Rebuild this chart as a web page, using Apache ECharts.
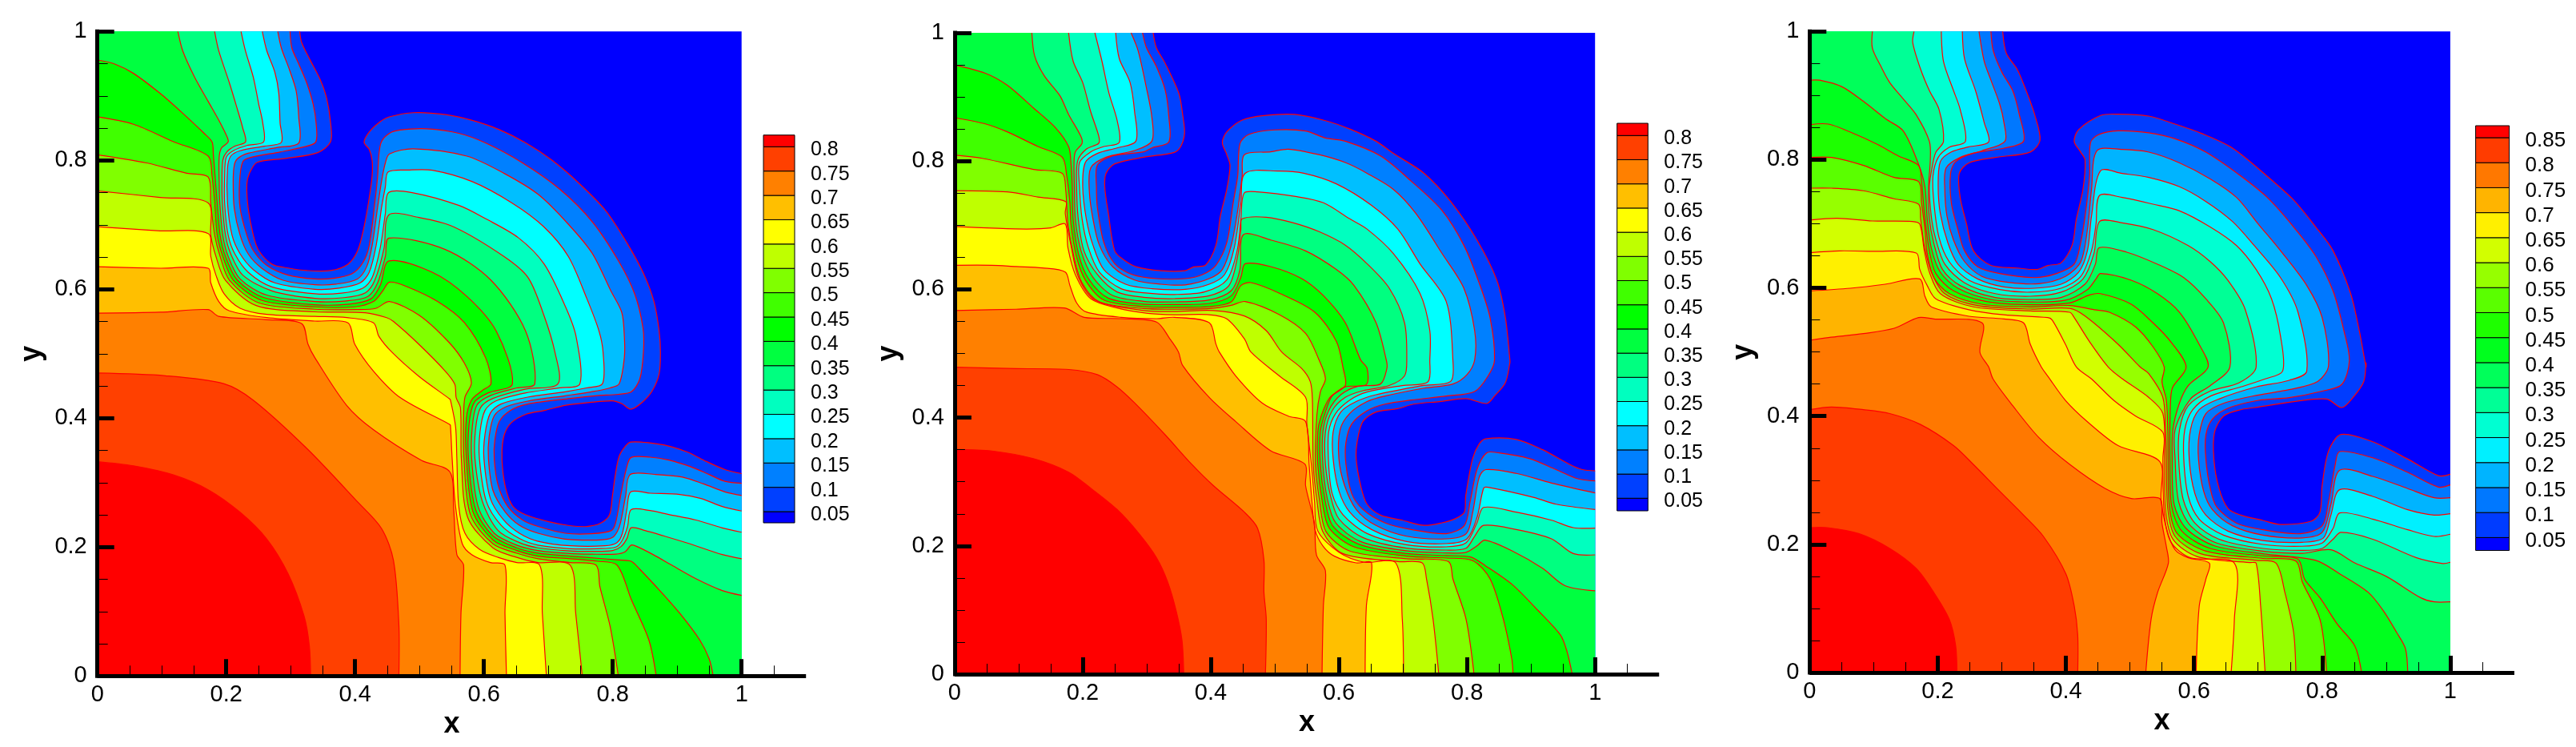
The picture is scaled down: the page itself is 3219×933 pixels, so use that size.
<!DOCTYPE html>
<html>
<head>
<meta charset="utf-8">
<title>contours</title>
<style>
  html, body { margin: 0; padding: 0; background: #fff; }
  #chart { width: 3219px; height: 933px; }
</style>
<script src="https://cdn.jsdelivr.net/npm/echarts@6/dist/echarts.min.js"></script>
</head>
<body>
<div id="chart"></div>
<script>
const levels = [.05,.1,.15,.2,.25,.3,.35,.4,.45,.5,.55,.6,.65,.7,.75,.8]
const levels3 = [.05,.1,.15,.2,.25,.3,.35,.4,.45,.5,.55,.6,.65,.7,.75,.8,.85]
const bands = ['#0000ff','#0040ff','#0080ff','#00bfff','#00ffff','#00ffbf','#00ff80','#00ff40','#00ff00','#40ff00','#80ff00','#bfff00','#ffff00','#ffbf00','#ff8000','#ff4000','#ff0000']
const bands3 = ['#0000ff','#003cff','#0078ff','#00b4ff','#00f0ff','#00ffd2','#00ff96','#00ff5a','#00ff1e','#1eff00','#5aff00','#96ff00','#d2ff00','#fff000','#ffb400','#ff7800','#ff3c00','#ff0000']
const domain = [0,1,1,1,1,0,0,0]
const majorTicks = [0,.2,.4,.6,.8,1]
const minorX = [.05,.1,.15,.25,.3,.35,.45,.5,.55,.65,.7,.75,.85,.9,.95,1.05]
const minorY = [.05,.1,.15,.25,.3,.35,.45,.5,.55,.65,.7,.75,.85,.9,.95]

// contour lines, flat x,y lists. each one bounds the region v >= level
// left panel
const p1c05 = [.314,1,.317,.983,.329,.958,.346,.925,.356,.896,.362,.858,.362,.829,.342,.812,.292,.803,.248,.797,.236,.78,.232,.763,.234,.726,.242,.684,.2505,.66,.271,.639,.296,.633,.325,.629,.362,.629,.389,.639,.404,.66,.414,.697,.422,.742,.4265,.776,.4265,.8,.422,.817,.414,.828,.422,.844,.439,.86,.453,.8675,.491,.874,.5405,.871,.582,.862,.623,.848,.665,.827,.706,.8,.747,.765,.789,.722,.822,.672,.847,.626,.864,.581,.872,.535,.874,.502,.872,.469,.861,.442,.845,.424,.828,.414,.8137,.4228,.799,.427,.764,.4244,.727,.42,.694,.412,.665,.406,.642,.3925,.6315,.374,.628,.349,.6295,.316,.636,.283,.646,.262,.665,.25,.702,.239,.735,.233,.76,.232,.781,.237,.795,.25,.7995,.279,.804,.312,.81,.341,.82,.357,.828,.363,.855,.362,.888,.3565,.917,.347,.946,.3325,.975,.32,1,.314]
const p1c10 = [.299,1,.302,.974,.3126,.9495,.325,.92,.335,.887,.3395,.858,.339,.8285,.321,.821,.2836,.813,.238,.8046,.2257,.798,.2207,.767,.2215,.726,.232,.684,.242,.66,.263,.637,.296,.622,.3375,.616,.3665,.617,.395,.624,.412,.641,.422,.668,.4306,.734,.435,.7756,.437,.809,.441,.829,.4534,.842,.47,.847,.511,.849,.561,.842,.6025,.827,.66,.796,.718,.755,.768,.705,.8095,.643,.834,.593,.847,.5395,.8476,.502,.842,.461,.829,.441,.809,.437,.7756,.435,.734,.4306,.668,.422,.641,.412,.624,.395,.617,.3665,.616,.3375,.622,.296,.637,.263,.66,.242,.684,.232,.726,.2215,.767,.2207,.798,.2257,.8046,.238,.813,.2836,.821,.321,.8285,.339,.858,.3395,.887,.335,.92,.325,.9495,.3126,.974,.302,1,.299]
const p1c15 = [.28,1,.2857,.974,.298,.941,.3085,.908,.3126,.8667,.3126,.827,.2795,.82,.234,.811,.2174,.8025,.2124,.792,.2108,.767,.2124,.726,.2215,.684,.234,.655,.2547,.633,.288,.614,.3375,.607,.3706,.608,.4037,.616,.418,.635,.4265,.668,.4348,.726,.441,.767,.447,.796,.4534,.81,.4907,.818,.5735,.8066,.6315,.7797,.685,.7466,.731,.701,.7683,.6555,.797,.5975,.814,.564,.818,.527,.818,.494,.81,.4534,.796,.447,.767,.441,.726,.4348,.668,.4265,.635,.418,.616,.4037,.608,.3706,.607,.3375,.614,.288,.633,.2547,.655,.234,.684,.2215,.726,.2124,.767,.2108,.792,.2124,.8025,.2174,.811,.234,.82,.2795,.827,.3126,.8667,.3126,.908,.3085,.941,.298,.974,.2857,1,.28]
const p1c20 = [.256,1,.263,.97,.2754,.937,.2816,.904,.2836,.858,.2857,.828,.2588,.822,.2215,.815,.207,.8066,.202,.788,.202,.734,.209,.684,.2215,.655,.242,.6306,.2754,.61,.3375,.6,.375,.6017,.408,.61,.422,.6265,.4327,.668,.441,.726,.447,.759,.4513,.782,.4824,.785,.52,.7847,.582,.767,.6435,.734,.693,.697,.731,.651,.76,.585,.7787,.535,.785,.502,.784,.4534,.759,.447,.726,.441,.668,.4327,.6265,.422,.61,.408,.6017,.375,.6,.3375,.61,.2754,.6306,.242,.655,.2215,.684,.209,.734,.202,.788,.202,.8066,.207,.815,.2215,.822,.2588,.828,.2857,.858,.2836,.904,.2816,.937,.2754,.97,.263,1,.256]
const p1c25 = [.223,1,.2298,.97,.242,.929,.2505,.887,.2567,.858,.258,.8286,.232,.823,.211,.815,.2,.8046,.1975,.7756,.1975,.734,.203,.684,.2133,.655,.234,.6265,.271,.6037,.3375,.593,.379,.594,.412,.6017,.4265,.618,.439,.664,.447,.7176,.452,.75,.4886,.75,.5615,.73,.603,.7093,.6534,.68,.6936,.639,.7267,.5727,.743,.527,.749,.4534,.7176,.447,.664,.439,.618,.4265,.6017,.412,.594,.379,.593,.3375,.6037,.271,.6265,.234,.655,.2133,.684,.203,.734,.1975,.7756,.1975,.8046,.2,.815,.211,.823,.232,.8286,.258,.858,.2567,.887,.2505,.929,.242,.97,.2298,1,.223]
const p1c30 = [.182,1,.1884,.97,.205,.92,.2174,.879,.2257,.85,.23,.8286,.2133,.822,.2008,.813,.1946,.8,.1934,.767,.194,.734,.1988,.684,.207,.655,.2257,.622,.271,.5975,.3375,.586,.383,.587,.416,.5946,.4306,.614,.445,.664,.4526,.7155,.499,.7114,.5528,.697,.631,.651,.6687,.618,.693,.56,.7103,.502,.715,.4534,.664,.445,.614,.4306,.5946,.416,.587,.383,.586,.3375,.5975,.271,.622,.2257,.655,.207,.684,.1988,.734,.194,.767,.1934,.8,.1946,.813,.2008,.822,.2133,.8286,.23,.85,.2257,.879,.2174,.92,.205,.97,.1884,1,.182]
const p1c35 = [.125,1,.1325,.97,.151,.929,.172,.8915,.1884,.8625,.2008,.8377,.203,.8286,.1925,.819,.189,.8046,.189,.767,.19,.734,.1946,.684,.203,.651,.2215,.616,.263,.591,.3375,.581,.387,.582,.42,.589,.435,.61,.447,.651,.4526,.6795,.54,.6617,.611,.614,.6646,.5354,.679,.4534,.651,.447,.61,.435,.589,.42,.582,.387,.581,.3375,.591,.263,.616,.2215,.651,.203,.684,.1946,.734,.19,.767,.189,.8046,.189,.819,.1925,.8286,.203,.8377,.2008,.8625,.1884,.8915,.172,.929,.151,.97,.1325,1,.125]
const p1c40 = [0,.956,.027,.9495,.056,.935,.0973,.904,.1304,.875,.1656,.842,.178,.8286,.18,.8087,.184,.759,.186,.734,.1905,.684,.1988,.651,.2174,.614,.2588,.587,.3375,.576,.391,.577,.4244,.585,.439,.606,.4526,.644,.5197,.6265,.5735,.589,.619,.5354,.6443,.4534,.606,.439,.585,.4244,.577,.391,.576,.3375,.587,.2588,.614,.2174,.651,.1988,.684,.1905,.734,.186,.759,.184,.8087,.18,.8286,.178,.842,.1656,.875,.1304,.904,.0973,.935,.056,.9495,.027,.956,0]
const p1c45 = [0,.8675,.056,.856,.118,.829,.172,.8066,.178,.7755,.182,.734,.186,.684,.1946,.651,.211,.614,.2547,.583,.3375,.5727,.3996,.5727,.4286,.581,.443,.5975,.4534,.611,.478,.605,.528,.581,.5698,.548,.6025,.494,.611,.4534,.5975,.443,.581,.4286,.5727,.3996,.5727,.3375,.583,.2547,.614,.211,.651,.1946,.684,.186,.734,.182,.7755,.178,.8066,.172,.829,.118,.856,.056,.8675,0]
const p1c50 = [0,.8087,.0766,.796,.1387,.78,.172,.774,.176,.734,.182,.684,.1905,.651,.205,.614,.2505,.579,.3375,.569,.4037,.5685,.4327,.5706,.4534,.581,.499,.56,.5445,.519,.5693,.486,.5806,.4547,.5706,.4327,.5685,.4037,.569,.3375,.579,.2505,.614,.205,.651,.1905,.684,.182,.734,.176,.774,.172,.78,.1387,.796,.0766,.8087,0]
const p1c55 = [0,.7527,.0973,.7425,.172,.734,.176,.684,.184,.651,.1988,.614,.2464,.5747,.3375,.565,.416,.5636,.449,.556,.4596,.55,.499,.5147,.54,.473,.5548,.4526,.5569,.432,.5636,.416,.565,.3375,.5747,.2464,.614,.1988,.651,.184,.684,.176,.734,.172,.7425,.0973,.7527,0]
const p1c60 = [0,.697,.0973,.6907,.172,.6865,.176,.651,.184,.622,.1967,.593,.2215,.5706,.263,.561,.3375,.558,.387,.556,.4286,.548,.437,.527,.4576,.502,.499,.465,.5466,.43,.548,.4286,.556,.387,.558,.3375,.561,.263,.5706,.2215,.593,.1967,.622,.184,.651,.176,.6865,.172,.6907,.0973,.697,0]
const p1c65 = [0,.635,.0973,.6327,.172,.6327,.176,.61,.1884,.581,.205,.5665,.263,.556,.3375,.5507,.389,.548,.3996,.5147,.4286,.473,.47,.432,.5466,.3905,.548,.389,.5507,.3375,.556,.263,.5665,.205,.581,.1884,.61,.176,.6327,.172,.6327,.0973,.635,0]
const p1c70 = [0,.563,.0973,.5644,.1718,.5685,.1884,.558,.26,.553,.3168,.547,.327,.5147,.3375,.494,.3872,.4195,.4286,.382,.503,.3346,.547,.3168,.553,.26,.558,.1884,.5685,.1718,.5644,.0973,.563,0]
const p1c75 = [0,.47,.1056,.4658,.1967,.4534,.2422,.4278,.325,.3532,.4037,.2704,.441,.229,.4596,.1793,.468,.08,.468,0]
const p1c80 = [0,.3325,.056,.326,.118,.312,.172,.289,.2215,.254,.263,.2124,.296,.1586,.321,.0923,.329,.0468,.331,0]

// middle panel
const p2c05 = [.31,1,.315,.977,.329,.952,.35,.906,.356,.873,.359,.8435,.353,.8227,.343,.8136,.295,.806,.25,.7957,.2365,.781,.2344,.76,.24,.7186,.25,.66,.264,.646,.284,.635,.322,.629,.36,.629,.3735,.635,.392,.638,.408,.669,.415,.7145,.425,.756,.43,.793,.425,.81,.418,.829,.425,.8456,.449,.864,.483,.871,.531,.8727,.579,.863,.617,.85,.658,.831,.685,.812,.733,.781,.7745,.737,.8156,.677,.8465,.6146,.86,.556,.867,.49,.867,.4856,.86,.4545,.843,.4336,.831,.422,.7985,.4295,.757,.425,.7165,.421,.692,.414,.658,.4087,.6375,.394,.629,.365,.627,.336,.634,.294,.644,.265,.665,.248,.699,.24,.733,.232,.761,.236,.781,.242,.796,.2526,.798,.2776,.8088,.336,.819,.3587,.829,.367,.877,.366,.918,.35,.9595,.3275,.98,.319,1,.317]
const p2c10 = [.2934,1,.2995,.977,.315,.9475,.329,.91,.3345,.8685,.3345,.83,.308,.8206,.295,.8144,.2467,.808,.2228,.7936,.2214,.76,.223,.727,.233,.673,.25,.64,.2776,.623,.315,.6167,.36,.6167,.387,.623,.408,.6375,.425,.673,.435,.735,.442,.777,.4455,.827,.459,.8415,.5,.8486,.548,.847,.579,.836,.61,.831,.665,.808,.713,.7686,.761,.723,.795,.669,.819,.61,.836,.556,.843,.49,.833,.465,.812,.4407,.7676,.4336,.713,.4274,.6717,.421,.644,.4107,.62,.39,.611,.361,.611,.3275,.62,.2817,.6375,.2568,.6717,.236,.713,.2255,.7676,.219,.796,.2318,.805,.269,.8156,.319,.8307,.345,.85,.345,.8978,.336,.939,.319,.973,.3046,1,.3013]
const p2c15 = [.2755,1,.2865,.972,.2995,.914,.308,.8685,.308,.831,.281,.8165,.2365,.806,.2125,.7894,.2104,.752,.216,.71,.226,.669,.2467,.6355,.281,.6146,.322,.608,.36,.607,.3975,.6167,.418,.631,.432,.669,.442,.723,.449,.777,.4524,.81,.4935,.8144,.521,.8186,.569,.81,.61,.7977,.644,.781,.685,.756,.72,.7186,.761,.656,.795,.602,.812,.5356,.812,.49,.8,.467,.778,.4524,.733,.446,.672,.4336,.644,.425,.617,.4066,.602,.3816,.6,.336,.609,.294,.627,.2568,.658,.2318,.7056,.215,.7676,.211,.799,.2193,.809,.2526,.819,.3067,.8294,.319,.877,.313,.932,.298,1,.2826]
const p2c20 = [.2515,1,.257,.96,.274,.9225,.281,.877,.283,.831,.2536,.8206,.2228,.812,.204,.7977,.2,.76,.2056,.71,.216,.669,.233,.631,.267,.608,.3085,.601,.36,.6,.3975,.608,.4215,.623,.4366,.6646,.447,.735,.4537,.781,.507,.7844,.545,.781,.596,.7645,.651,.731,.692,.694,.7265,.64,.7676,.581,.778,.49,.7745,.4565,.73,.45,.658,.4357,.627,.425,.603,.4087,.591,.3775,.591,.336,.6,.286,.617,.2526,.651,.2255,.7056,.2068,.7676,.2035,.8,.211,.8156,.244,.826,.29,.833,.2913,.9047,.2755,.939,.265,1,.2568]
const p2c25 = [.219,1,.23,.956,.241,.906,.2536,.864,.257,.829,.233,.8227,.2125,.8144,.195,.7977,.195,.76,.199,.71,.209,.6646,.226,.627,.26,.601,.3016,.594,.343,.592,.39,.596,.425,.6146,.441,.66,.447,.71,.452,.75,.473,.752,.5346,.7445,.576,.735,.617,.71,.644,.694,.685,.656,.7265,.594,.742,.5356,.742,.49,.739,.4557,.699,.45,.644,.44,.617,.4274,.595,.4066,.584,.3775,.584,.3275,.5895,.2817,.6066,.2484,.644,.2193,.7056,.2018,.7676,.1985,.7985,.2047,.8156,.236,.826,.26,.877,.2526,.932,.24,.966,.2285,1,.2276]
const p2c30 = [.178,1,.185,.956,.2,.9225,.2125,.877,.225,.839,.225,.8277,.2056,.8186,.192,.8,.1905,.76,.193,.71,.202,.66,.223,.623,.2536,.596,.295,.5876,.343,.5855,.3975,.59,.4284,.606,.442,.652,.447,.694,.449,.71,.4866,.7125,.528,.704,.569,.69,.61,.669,.644,.64,.6785,.602,.7025,.548,.706,.49,.7025,.465,.6785,.45,.6375,.442,.61,.4315,.5895,.4107,.579,.3775,.579,.3275,.587,.2776,.6,.2422,.6375,.213,.7056,.1964,.7676,.1935,.7985,.1964,.812,.215,.826,.232,.877,.2255,.932,.211,.966,.188,1,.186]
const p2c35 = [.1206,1,.125,.964,.14,.933,.1645,.9018,.178,.8727,.197,.839,.199,.8277,.1885,.8144,.1864,.7977,.187,.76,.1885,.71,.1974,.66,.216,.6188,.2467,.5905,.295,.5814,.343,.5805,.3975,.5834,.432,.598,.4455,.631,.451,.6854,.4935,.677,.548,.66,.596,.631,.6237,.606,.658,.548,.674,.49,.675,.477,.665,.4524,.63,.449,.603,.4357,.584,.4107,.575,.3775,.575,.3275,.582,.2734,.595,.236,.634,.2068,.7056,.1923,.7676,.189,.7985,.19,.8156,.2,.828,.209,.8704,.1923,.918,.165,.953,.138,1,.13]
const p2c40 = [0,.95,.048,.937,.082,.9185,.123,.883,.1576,.852,.178,.8227,.1816,.7977,.1837,.76,.185,.71,.1933,.656,.209,.6167,.24,.5863,.295,.577,.343,.5764,.3975,.578,.432,.59,.447,.619,.4537,.64,.4935,.6355,.5415,.617,.576,.59,.61,.548,.634,.49,.644,.477,.6428,.4515,.61,.448,.5895,.4336,.579,.4087,.571,.3775,.571,.3275,.578,.2734,.59,.2318,.6306,.2027,.7056,.188,.7676,.185,.8054,.1827,.829,.169,.8704,.14,.9116,.0986,.946,.061,.956,.036,.9644,0]
const p2c45 = [0,.8677,.048,.858,.082,.8456,.13,.8227,.168,.806,.175,.777,.18,.735,.1816,.702,.19,.652,.204,.6147,.233,.5834,.295,.573,.343,.572,.3975,.573,.432,.5805,.447,.606,.4627,.6105,.507,.594,.562,.5647,.596,.519,.6066,.477,.61,.45,.586,.4315,.5723,.4024,.567,.3775,.567,.3275,.574,.269,.585,.2276,.6237,.1985,.7056,.184,.7676,.181,.8088,.177,.836,.1486,.8567,.086,.87,.0237,.872,0]
const p2c50 = [0,.8094,.0446,.804,.123,.787,.168,.781,.1734,.756,.177,.702,.186,.652,.199,.61,.226,.5805,.295,.57,.343,.569,.3975,.57,.432,.575,.4537,.581,.507,.5606,.548,.5314,.569,.49,.579,.4607,.571,.44,.5655,.4024,.5634,.3275,.57,.269,.58,.222,.617,.192,.7056,.18,.771,.1756,.778,.1486,.7985,.086,.811,0]
const p2c55 = [0,.754,.082,.752,.13,.744,.1734,.737,.1727,.7187,.1816,.669,.1933,.619,.2193,.5834,.295,.567,.343,.5655,.404,.567,.4524,.5585,.4866,.5356,.5107,.5023,.5415,.477,.5552,.4565,.5586,.4295,.56,.3275,.566,.269,.575,.222,.606,.188,.692,.1756,.73,.1735,.7368,.1486,.747,.086,.756,0]
const p2c60 = [0,.698,.0583,.6955,.113,.694,.15,.6958,.1727,.702,.177,.6646,.1885,.623,.2125,.5855,.2536,.571,.3016,.5626,.343,.5605,.3975,.5605,.425,.554,.4524,.523,.4627,.5023,.507,.465,.548,.4316,.55,.39,.557,.3275,.562,.269,.567,.2235,.6,.19,.64,.1745,.6888,.1735,.699,.086,.701,0]
const p2c65 = [0,.6375,.0583,.6375,.096,.6355,.137,.6334,.1727,.627,.18,.606,.1905,.579,.2056,.5647,.26,.5564,.3153,.5543,.343,.5564,.3975,.548,.408,.5148,.4133,.5023,.439,.465,.48,.423,.521,.4024,.548,.394,.5535,.3275,.558,.269,.563,.225,.575,.2,.593,.184,.627,.1735,.651,.1735,.643,.107,.641,0]
const p2c70 = [0,.567,.096,.569,.1713,.571,.2022,.5564,.26,.5543,.3153,.549,.336,.523,.3496,.5023,.356,.4815,.3976,.4315,.4387,.394,.4935,.3483,.547,.3275,.548,.294,.5617,.236,.565,.186,.579,.161,.5758,.107,.5737,0]
const p2c75 = [0,.4786,.096,.4765,.178,.475,.2228,.467,.2536,.448,.281,.423,.329,.373,.37,.3275,.404,.294,.4524,.2526,.473,.2276,.483,.1777,.483,.1278,.4866,.086,.4853,0]
const p2c80 = [0,.3504,.0583,.348,.123,.336,.178,.315,.2125,.29,.2536,.2568,.288,.219,.315,.182,.3325,.1444,.346,.0986,.355,.053,.3578,0]

// right panel
const p3c05 = [.3014,1,.307,.966,.324,.941,.338,.9076,.3514,.87,.3596,.8305,.3445,.812,.29,.8035,.2486,.795,.2336,.7785,.235,.741,.245,.6994,.2555,.658,.283,.635,.324,.631,.355,.6287,.372,.635,.3925,.639,.4096,.666,.4164,.7077,.4267,.7535,.43,.7993,.423,.812,.413,.8285,.42,.847,.454,.869,.4815,.871,.5295,.868,.5705,.8555,.6116,.841,.66,.818,.714,.7744,.7555,.737,.79,.695,.817,.658,.8445,.591,.858,.533,.8685,.4767,.8685,.483,.865,.454,.848,.4288,.8308,.4134,.8068,.4267,.7555,.4226,.7007,.4142,.673,.41,.646,.4,.632,.3747,.631,.333,.639,.2873,.653,.256,.673,.2456,.7075,.2373,.735,.231,.783,.236,.7966,.25,.8,.2914,.81,.3455,.8295,.3713,.8788,.36,.9336,.333,.9815,.307,1,.3093]
const p3c10 = [.283,1,.2866,.97,.3,.9367,.317,.9076,.3274,.87,.334,.829,.3034,.818,.2555,.81,.228,.797,.22,.7785,.2212,.7327,.2315,.691,.2418,.658,.2623,.633,.2966,.6224,.351,.616,.3856,.6224,.413,.637,.423,.67,.43,.712,.437,.7744,.4384,.8264,.4507,.839,.4815,.845,.5295,.842,.5705,.8326,.6185,.8118,.6733,.7744,.7144,.741,.7555,.695,.79,.6495,.817,.595,.834,.533,.8425,.487,.8308,.4496,.8,.439,.7486,.4288,.7007,.4246,.6527,.4122,.6288,.3955,.6185,.3705,.6185,.333,.6253,.2873,.6356,.258,.6664,.233,.7075,.2227,.7658,.2165,.8,.229,.81,.2664,.8205,.3247,.8274,.3447,.8788,.335,.9336,.3122,.9815,.2893,1,.2927]
const p3c15 = [.2644,1,.2726,.953,.283,.924,.2966,.887,.3034,.8576,.3048,.8285,.269,.814,.235,.8035,.213,.787,.211,.7535,.2144,.712,.2247,.6744,.2418,.641,.269,.618,.31,.6087,.358,.6066,.3993,.618,.4233,.641,.4336,.691,.44,.7535,.4486,.814,.488,.816,.5295,.8118,.5774,.795,.6253,.77,.6664,.741,.7,.7,.735,.658,.776,.6037,.8,.5537,.81,.479,.793,.454,.7486,.4413,.7007,.433,.646,.42,.6185,.404,.608,.3705,.607,.333,.615,.283,.6288,.254,.66,.229,.7075,.2144,.769,.21,.8,.2186,.8137,.2623,.8274,.3156,.8788,.306,.9336,.287,.9747,.2727,1,.2727]
const p3c20 = [.2384,1,.2418,.9575,.259,.9076,.2726,.8576,.2795,.8276,.2486,.82,.2212,.812,.204,.797,.2007,.7577,.204,.716,.2158,.6703,.2315,.637,.2623,.614,.3034,.6016,.351,.5995,.3925,.6057,.42,.6245,.4336,.658,.44,.712,.454,.7827,.488,.7785,.5295,.7723,.5774,.7577,.6185,.7348,.66,.7036,.694,.666,.735,.616,.7623,.562,.776,.4704,.7486,.4559,.697,.4455,.639,.4267,.608,.41,.5945,.379,.5925,.333,.6014,.279,.6185,.2456,.653,.2206,.7075,.206,.769,.2032,.802,.21,.8137,.2456,.8274,.2852,.8788,.2748,.9336,.254,.9747,.2456,1,.2477]
const p3c25 = [.2055,1,.209,.953,.2247,.9076,.235,.8784,.2432,.8285,.2178,.8193,.2007,.8035,.1925,.7744,.194,.7327,.202,.6786,.2178,.641,.2486,.612,.2966,.5974,.3445,.5933,.3925,.5995,.4233,.618,.44,.658,.447,.6994,.4527,.7443,.488,.741,.536,.7306,.5774,.7202,.6253,.695,.6664,.666,.697,.6286,.721,.583,.735,.5246,.7384,.4704,.711,.458,.673,.4455,.6253,.431,.598,.41,.5856,.379,.584,.333,.591,.2748,.608,.2394,.646,.2144,.7075,.1998,.769,.197,.8,.202,.817,.2248,.8274,.249,.8788,.2394,.9336,.2227,.9747,.2123,1,.2157]
const p3c30 = [.163,1,.161,.9825,.1733,.941,.187,.9076,.202,.8784,.209,.8285,.1973,.812,.1925,.795,.187,.7577,.1904,.7077,.1973,.6744,.211,.637,.2418,.608,.2897,.591,.3445,.587,.3925,.5933,.4267,.614,.4438,.6536,.4527,.7036,.488,.7015,.536,.691,.591,.666,.6253,.641,.6527,.612,.68,.566,.697,.4767,.67,.4517,.6253,.439,.591,.4163,.5774,.379,.576,.333,.583,.2706,.6014,.233,.639,.208,.7075,.1936,.769,.1907,.8,.1936,.817,.208,.8295,.2186,.8788,.208,.9473,.179,.9884,.17,1,.172]
const p3c35 = [.098,1,.098,.974,.1116,.945,.1253,.92,.146,.895,.1664,.87,.187,.8285,.1884,.7993,.1856,.7577,.187,.7077,.1938,.67,.2075,.6286,.235,.6037,.2897,.585,.3445,.582,.3925,.585,.43,.606,.446,.637,.452,.6627,.495,.6557,.543,.637,.584,.616,.6185,.583,.646,.5454,.656,.4767,.6253,.4475,.5945,.4267,.5705,.379,.5705,.333,.576,.2664,.5945,.229,.6356,.202,.7075,.1894,.769,.186,.8137,.1915,.8514,.1707,.9,.15,.954,.1166,.9747,.1103,1,.1103]
const p3c40 = [0,.924,.0158,.924,.05,.914,.084,.891,.1185,.8638,.146,.845,.17,.793,.18,.7577,.1836,.7077,.19,.662,.204,.6245,.2315,.5995,.283,.582,.3445,.578,.3993,.5808,.4336,.5974,.447,.614,.454,.6224,.502,.612,.543,.591,.5774,.562,.608,.512,.622,.4767,.591,.4475,.5774,.4205,.567,.379,.566,.333,.569,.2623,.5877,.2248,.632,.1977,.7075,.1853,.79,.175,.8274,.154,.872,.125,.896,.0958,.9164,.0624,.93,.0375,.9336,0]
const p3c45 = [0,.8547,.0295,.8555,.0637,.843,.105,.8243,.139,.8056,.17,.791,.1747,.766,.18,.7077,.187,.6578,.197,.6224,.2247,.5953,.276,.5787,.3445,.5737,.406,.5766,.437,.589,.454,.591,.502,.5745,.536,.5454,.5637,.516,.5877,.4767,.567,.4455,.5637,.429,.5623,.379,.5623,.333,.565,.26,.581,.2206,.6253,.1936,.7075,.182,.762,.177,.7726,.1457,.7966,.1166,.824,.075,.851,.0416,.8616,0]
const p3c50 = [0,.8035,.0342,.8035,.084,.791,.132,.7723,.17,.766,.1747,.7327,.18,.691,.1836,.6536,.194,.616,.218,.591,.2692,.5745,.3445,.5704,.406,.5725,.444,.566,.468,.562,.509,.539,.536,.508,.5534,.4767,.55,.4538,.5568,.4246,.559,.379,.5596,.333,.5616,.258,.574,.2165,.6185,.1894,.7075,.178,.759,.174,.769,.1415,.7966,.083,.807,0]
const p3c55 = [0,.7556,.0342,.7556,.084,.7515,.132,.739,.17,.7307,.1733,.7077,.179,.666,.19,.6245,.211,.591,.2623,.5724,.3445,.567,.406,.568,.43,.556,.4815,.512,.5158,.4767,.5295,.466,.5514,.429,.5555,.379,.5568,.333,.559,.256,.5705,.2123,.6116,.185,.697,.175,.728,.1707,.7418,.125,.7555,.0624,.759,0]
const p3c60 = [0,.7057,.043,.7086,.098,.7044,.16,.7036,.172,.6994,.179,.658,.187,.6245,.204,.591,.2555,.5704,.3445,.564,.406,.562,.413,.5537,.437,.516,.466,.4767,.4884,.458,.5295,.429,.5514,.404,.554,.333,.5555,.254,.567,.208,.6048,.181,.687,.1715,.697,.1707,.704,.104,.711,0]
const p3c65 = [0,.655,.0466,.6578,.098,.657,.1664,.6545,.172,.6286,.1836,.6037,.197,.583,.2486,.566,.3034,.558,.372,.5537,.3788,.5496,.3993,.512,.4164,.4767,.44,.458,.4747,.4246,.509,.4,.5514,.3747,.5514,.333,.5534,.25,.5637,.204,.5945,.179,.663,.1707,.663,.083,.658,0]
const p3c70 = [0,.5953,.0637,.5995,.118,.6057,.172,.614,.18,.587,.19,.5704,.2486,.5558,.3034,.5516,.334,.5454,.3445,.512,.3616,.4767,.372,.462,.3993,.4246,.4336,.3913,.4815,.354,.5466,.329,.5486,.2706,.557,.2248,.5705,.1915,.591,.179,.624,.1707,.6185,.1457,.6082,.104,.6034,0]
const p3c75 = [0,.5183,.0295,.5225,.084,.5287,.132,.537,.17,.5537,.194,.5516,.2692,.5454,.2658,.4996,.2795,.4767,.2863,.458,.317,.4163,.358,.3664,.406,.3247,.461,.2873,.502,.2714,.5466,.2714,.55,.233,.557,.1957,.56,.1707,.5432,.125,.533,.083,.5247,0]
const p3c80 = [0,.41,.0342,.4142,.084,.41,.125,.404,.173,.387,.2247,.354,.2555,.3247,.2966,.283,.334,.2456,.365,.2123,.4,.154,.413,.104,.4185,.0583,.4185,0]
const p3c85 = [0,.226,.0274,.226,.0774,.2165,.125,.1936,.1664,.1624,.1938,.125,.218,.083,.228,.0416,.23,0]

const panels = [
  { lines: [p1c05,p1c10,p1c15,p1c20,p1c25,p1c30,p1c35,p1c40,p1c45,p1c50,p1c55,p1c60,p1c65,p1c70,p1c75,p1c80], colors: bands, lv: levels,
    rect: { left: 121.7, top: 39.3, unitX: 805, unitY: 805 },
    bar: { left: 954, top: 168.7, width: 39, height: 484.3, min: .027, max: .824 }, fontSize: 25 },
  { lines: [p2c05,p2c10,p2c15,p2c20,p2c25,p2c30,p2c35,p2c40,p2c45,p2c50,p2c55,p2c60,p2c65,p2c70,p2c75,p2c80], colors: bands, lv: levels,
    rect: { left: 1192.9, top: 41, unitX: 800.3, unitY: 801 },
    bar: { left: 2020.7, top: 154, width: 38.6, height: 484, min: .024, max: .8253 }, fontSize: 25 },
  { lines: [p3c05,p3c10,p3c15,p3c20,p3c25,p3c30,p3c35,p3c40,p3c45,p3c50,p3c55,p3c60,p3c65,p3c70,p3c75,p3c80,p3c85], colors: bands3, lv: levels3,
    rect: { left: 2261.3, top: 39.3, unitX: 800.6, unitY: 800.7 },
    bar: { left: 3093.6, top: 157, width: 42, height: 530.5, min: .0242, max: .874 }, fontSize: 26 }
]

const fontFamily = '"Liberation Sans", Arial, sans-serif'
const curve = .3
const barLabelDrop = 4

function pairs(flat) {
  const out = []
  for (let i = 0; i < flat.length; i += 2) out.push([flat[i], flat[i + 1]])
  return out
}

// close a contour round the lower left corner of the domain
// doubled points keep the smoothing from rounding the corners
function region(flat) {
  const pts = pairs(flat)
  const first = pts[0], last = pts[pts.length - 1]
  pts.unshift(first)
  pts.push(last)
  if (last[0] >= 1) pts.push([1, 0], [1, 0])
  pts.push([0, 0], [0, 0])
  if (first[1] >= 1) pts.push([0, 1], [0, 1])
  return pts
}

const grid = [], xAxis = [], yAxis = [], series = []
const n = panels.length

function frameAxis(p, i, isX) {
  return {
    type: 'value', gridIndex: i, min: 0, max: isX ? 1.1 : 1, z: 10, silent: true,
    name: isX ? 'x' : 'y', nameLocation: 'middle', nameGap: isX ? 36 : 64,
    nameTextStyle: { fontFamily, fontWeight: 'bold', fontSize: 36, color: '#000' },
    axisLine: { show: true, lineStyle: { color: '#000', width: 5, cap: isX ? 'butt' : 'square' } },
    axisTick: { show: true, inside: true, length: 21, customValues: majorTicks, lineStyle: { color: '#000', width: 5 } },
    axisLabel: { show: true, customValues: majorTicks, margin: isX ? 9 : 13, fontFamily, fontSize: 29, color: '#000', formatter: v => String(v), hideOverlap: false },
    splitLine: { show: false }, minorTick: { show: false }
  }
}

function minorAxis(i, isX) {
  return {
    type: 'value', gridIndex: i, min: 0, max: isX ? 1.1 : 1, z: 10, silent: true,
    axisLine: { show: false },
    axisTick: { show: true, inside: true, length: 13, customValues: isX ? minorX : minorY, lineStyle: { color: '#000', width: 1 } },
    axisLabel: { show: false }, splitLine: { show: false }
  }
}

panels.forEach((p, i) => {
  grid[i] = { left: p.rect.left, top: p.rect.top, width: p.rect.unitX * 1.1, height: p.rect.unitY, containLabel: false }
  grid[n + i] = { left: p.rect.left, top: p.rect.top, width: p.rect.unitX * 1.1, height: p.rect.unitY, containLabel: false }
  grid[2 * n + i] = { left: p.bar.left, top: p.bar.top, width: p.bar.width, height: p.bar.height, containLabel: false }
  // the bar's labels sit a little under their level, so they get their own grid
  grid[3 * n + i] = { left: p.bar.left, top: p.bar.top + barLabelDrop, width: p.bar.width, height: p.bar.height, containLabel: false }

  xAxis[i] = frameAxis(p, i, true)
  yAxis[i] = frameAxis(p, i, false)
  xAxis[n + i] = minorAxis(n + i, true)
  yAxis[n + i] = minorAxis(n + i, false)
  xAxis[2 * n + i] = { type: 'value', gridIndex: 2 * n + i, min: 0, max: 1, show: false }
  yAxis[2 * n + i] = { type: 'value', gridIndex: 2 * n + i, min: p.bar.min, max: p.bar.max, show: false }
  xAxis[3 * n + i] = { type: 'value', gridIndex: 3 * n + i, min: 0, max: 1, show: false }
  yAxis[3 * n + i] = {
    type: 'value', gridIndex: 3 * n + i, position: 'right', min: p.bar.min, max: p.bar.max, silent: true,
    axisLine: { show: false }, axisTick: { show: false }, splitLine: { show: false },
    axisLabel: { show: true, customValues: p.lv, margin: 20, fontFamily, fontSize: p.fontSize, color: '#000', formatter: v => String(v), hideOverlap: false }
  }

  // filled regions, lowest level first, each one paints over the one before
  const fills = [pairs(domain)].concat(p.lines.map(region))
  series.push({
    type: 'custom', xAxisIndex: i, yAxisIndex: i, coordinateSystem: 'cartesian2d', clip: false, silent: true, z: 2,
    data: fills.map((f, k) => [k]),
    renderItem(params, api) {
      const k = params.dataIndex
      return { type: 'polygon', shape: { points: fills[k].map(c => api.coord(c)), smooth: k ? curve : 0 }, style: { fill: p.colors[k], stroke: null } }
    }
  })
  const strokes = p.lines.map(pairs)
  series.push({
    type: 'custom', xAxisIndex: i, yAxisIndex: i, coordinateSystem: 'cartesian2d', clip: false, silent: true, z: 3,
    data: strokes.map((f, k) => [k]),
    renderItem(params, api) {
      const k = params.dataIndex
      return { type: 'polyline', shape: { points: strokes[k].map(c => api.coord(c)), smooth: curve }, style: { fill: null, stroke: '#ff0000', lineWidth: 1.2 } }
    }
  })

  // colour bar
  const edges = [p.bar.min].concat(p.lv, [p.bar.max])
  series.push({
    type: 'custom', xAxisIndex: 2 * n + i, yAxisIndex: 2 * n + i, coordinateSystem: 'cartesian2d', silent: true, z: 2,
    data: p.colors.map((c, k) => [edges[k], edges[k + 1]]),
    renderItem(params, api) {
      const a = api.coord([0, api.value(0)]), b = api.coord([1, api.value(1)])
      return { type: 'rect', shape: { x: a[0], y: b[1], width: b[0] - a[0], height: a[1] - b[1] }, style: { fill: p.colors[params.dataIndex], stroke: '#000', lineWidth: 1 } }
    }
  })
})

const chart = echarts.init(document.getElementById('chart'), null, { renderer: 'canvas' })
chart.setOption({ animation: false, backgroundColor: '#fff', grid, xAxis, yAxis, series })
</script>
</body>
</html>
